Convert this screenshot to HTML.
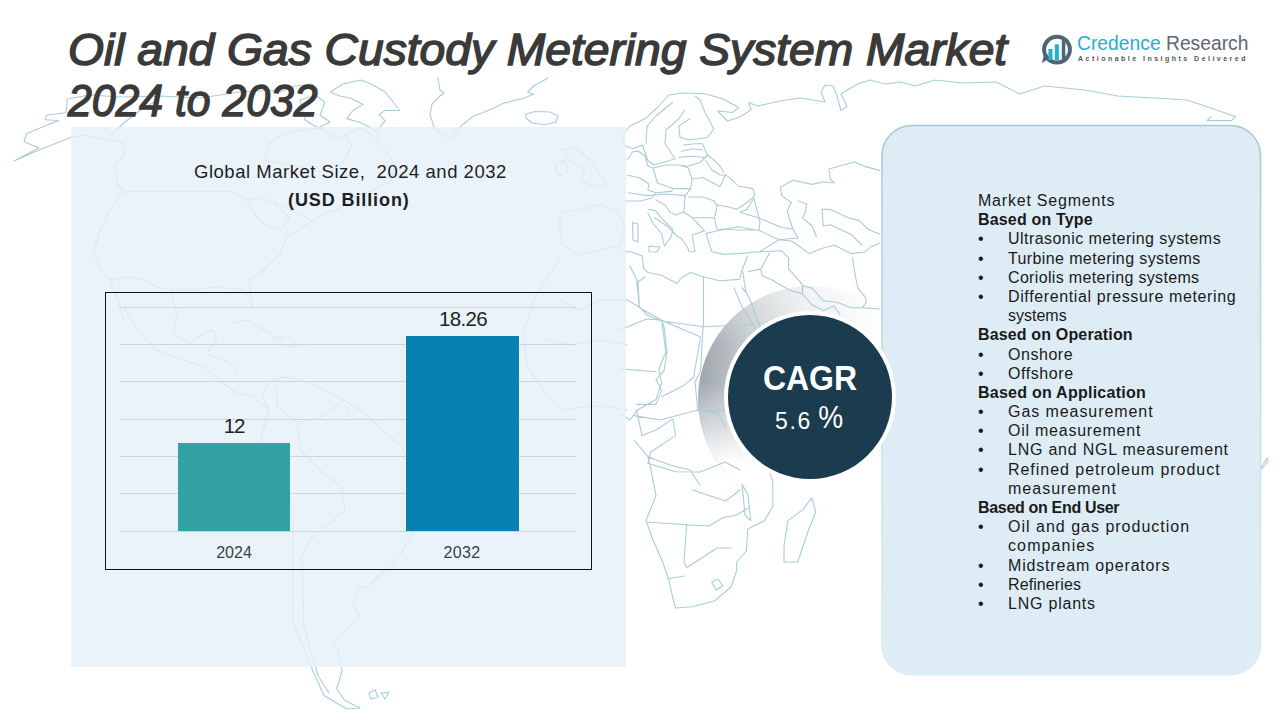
<!DOCTYPE html>
<html>
<head>
<meta charset="utf-8">
<style>
html,body{margin:0;padding:0;}
body{width:1280px;height:720px;position:relative;overflow:hidden;background:#ffffff;font-family:"Liberation Sans",sans-serif;}
.abs{position:absolute;}
#map{position:absolute;left:0;top:0;}
#title div{position:absolute;font-weight:normal;font-style:italic;font-size:45px;color:#3a3a3a;-webkit-text-stroke:1.5px #3a3a3a;line-height:52px;white-space:nowrap;transform-origin:0 0;}
#t1{left:68px;top:23.8px;transform:scaleX(1.026);}
#t2{left:68px;top:74.5px;transform:scaleX(0.95);}
#lpanel{position:absolute;left:71px;top:127px;width:555px;height:540px;background:rgba(229,240,248,0.8);}
.ctitle{position:absolute;white-space:nowrap;color:#1e1e1e;}
#chartbox{position:absolute;left:105px;top:292px;width:485px;height:276px;border:1.3px solid #111;}
.grid{position:absolute;left:120px;width:456px;height:1px;background:#cfd6da;}
.bar{position:absolute;}
.lbl{position:absolute;white-space:nowrap;text-align:center;}
.seg{position:absolute;left:978px;top:191px;font-size:16px;line-height:19.2px;color:#1a1a1a;white-space:nowrap;}
.seg div{height:19.2px;}
.seg b{font-weight:bold;}
.bl,.in{position:relative;padding-left:30px;}
.bl:before{content:"\2022";position:absolute;left:0px;}
</style>
</head>
<body>


<svg class="abs" style="left:680px;top:270px" width="240" height="250" viewBox="680 270 240 250">
  <defs>
    <linearGradient id="hg" gradientUnits="userSpaceOnUse" x1="695" y1="0" x2="880" y2="0">
      <stop offset="0" stop-color="#9ba4aa"/>
      <stop offset="0.3" stop-color="#c8cdd0"/>
      <stop offset="0.6" stop-color="#ebeced"/>
      <stop offset="1" stop-color="#ffffff"/>
    </linearGradient>
    <linearGradient id="vg" gradientUnits="userSpaceOnUse" x1="0" y1="382" x2="0" y2="465">
      <stop offset="0" stop-color="#ffffff" stop-opacity="0"/>
      <stop offset="1" stop-color="#ffffff" stop-opacity="1"/>
    </linearGradient>
    <linearGradient id="tg" gradientUnits="userSpaceOnUse" x1="0" y1="285" x2="0" y2="345">
      <stop offset="0" stop-color="#ffffff" stop-opacity="0.4"/>
      <stop offset="1" stop-color="#ffffff" stop-opacity="0"/>
    </linearGradient>
  </defs>
  <circle cx="811" cy="399" r="113" fill="url(#hg)"/>
  <circle cx="811" cy="399" r="113" fill="url(#vg)"/>
  <circle cx="811" cy="399" r="113" fill="url(#tg)"/>
</svg>
<svg id="map" width="1280" height="720" viewBox="0 0 1280 720"><path d="M67.0 99.0 L67.0 105.6 L65.6 112.7 L47.0 115.0 L45.0 119.7 L59.0 120.5 L40.0 128.0 L26.5 133.8 L24.0 141.5 L31.0 144.7 L39.0 147.8 L14.0 161.0 L39.0 150.0 L72.0 137.0 L86.0 135.0 L109.0 140.0 L119.0 141.5 L125.0 144.7 L123.4 157.0 L115.6 163.4 L117.0 184.0 L125.0 191.5 M109.0 137.0 L125.0 122.0 L140.6 110.0 L156.0 101.0 M67.0 99.0 L90.0 95.0 L120.0 97.0 L160.0 96.0 L200.0 98.0 L240.0 92.0 L280.0 90.0 M330.5 92.0 L342.7 84.0 L361.0 80.0 L371.0 84.0 L385.0 92.0 L391.5 100.0 L399.6 110.5 L385.0 110.5 L379.0 114.6 L385.0 120.7 L377.0 131.0 L361.0 122.7 L346.7 118.6 L352.8 110.5 L363.0 104.4 L350.8 98.3 L340.6 96.3 L330.5 92.0 M300.0 100.0 L315.0 95.0 L325.0 102.0 L320.0 115.0 L330.0 122.0 L318.0 128.0 L305.0 120.0 L300.0 100.0 M280.0 92.0 L295.0 86.0 L312.0 84.0 L318.0 90.0 M265.0 160.0 L268.0 145.0 L280.0 135.0 L300.0 130.0 L320.0 128.0 L335.0 138.0 L345.0 135.0 L352.0 145.0 L345.0 160.0 L330.0 172.0 L310.0 170.0 L290.0 165.0 L265.0 160.0 M345.0 135.0 L360.0 128.0 L372.0 135.0 L385.0 150.0 L395.0 165.0 L390.0 182.0 L372.0 190.0 L355.0 196.0 L350.0 192.5 M438.0 78.0 L440.0 90.0 L444.0 93.0 L440.0 96.0 L432.0 104.0 L430.0 114.6 L434.0 126.8 L442.0 135.0 L450.4 138.0 L462.6 124.7 L472.8 116.6 L493.0 108.5 L503.0 103.4 L523.6 98.3 L533.7 94.3 L527.6 92.2 L533.7 86.0 L548.0 78.0 M526.0 114.0 L535.0 111.5 L550.0 112.0 L558.0 116.0 L556.0 122.0 L545.0 124.7 L532.0 123.0 L526.0 118.0 L526.0 114.0 M116.7 186.7 L123.3 191.7 L233.3 191.7 L246.7 200.0 L262.0 198.0 L280.0 205.0 L300.0 215.0 L315.0 222.0 M123.3 191.7 L110.0 210.0 L100.0 230.0 L93.3 253.3 L103.3 273.3 L110.0 280.0 L118.0 300.0 L123.3 320.0 M110.0 280.0 L130.0 276.7 L143.3 280.0 L156.7 286.7 L170.0 290.0 L190.0 290.0 L216.7 286.7 L243.3 290.0 L253.3 306.7 L250.0 290.0 L250.0 280.0 L263.3 270.0 L280.0 253.3 L286.7 236.7 L303.3 226.7 L323.3 213.3 L336.7 210.0 L356.7 196.7 L377.0 188.0 M246.7 200.0 L255.0 215.0 L265.0 225.0 L280.0 230.0 L290.0 218.0 L275.0 205.0 M170.0 290.0 L176.7 313.3 L173.3 333.3 L190.0 343.3 L203.3 333.3 L213.3 330.0 L216.7 340.0 L206.7 353.3 L230.0 363.3 L238.0 372.0 M123.3 306.7 L140.0 333.3 L156.7 350.0 L183.3 360.0 L203.3 366.7 L223.3 383.3 L236.7 393.3 L253.3 396.7 L269.0 410.0 M230.0 323.3 L246.7 320.0 L270.0 333.3 L276.7 340.0 M278.0 337.0 L290.0 338.0 L297.0 346.0 L284.0 346.0 L278.0 337.0 M300.0 345.0 L306.0 347.0 M269.0 381.7 L283.3 376.7 L300.0 380.0 L316.7 386.7 L325.6 389.8 L343.3 400.0 L366.0 414.0 L382.0 430.0 L402.0 446.0 L410.0 470.0 L413.0 500.0 L413.0 533.0 L400.0 555.0 L387.0 570.0 L384.4 571.0 L370.0 585.0 L358.0 589.0 L353.0 604.0 L360.0 617.8 L344.0 631.0 L333.0 642.0 L337.8 649.0 L342.0 671.0 L336.7 689.0 L344.4 700.0 L360.0 708.0 M269.0 381.7 L262.0 395.0 L269.0 410.0 L261.0 438.0 L275.0 465.0 L289.4 494.5 L293.0 520.0 L293.0 553.0 L293.0 560.0 L293.0 622.0 L313.0 671.0 L324.0 695.5 L346.7 709.0 L360.0 708.0 M277.0 386.0 L277.0 406.0 L297.4 422.0 L320.0 418.0 L341.7 401.8 M297.4 422.0 L300.0 450.0 L320.0 470.0 L341.7 486.5 L345.0 510.0 L325.6 526.7 L310.0 540.0 L300.0 560.0 M345.0 405.0 L350.0 420.0 L365.0 418.0 M302.0 560.0 L304.0 627.0 L318.0 675.5 L329.0 693.0 M369.0 693.0 L375.0 690.0 L378.0 697.0 L371.0 699.0 L369.0 693.0 M381.0 693.0 L389.0 692.0 L385.0 699.0 L381.0 693.0 M560.0 260.0 L548.0 275.0 L540.0 290.0 L535.0 297.0 L523.0 333.0 L527.0 365.6 L543.0 389.8 L563.0 410.0 L585.0 407.0 L600.0 406.0 L627.0 410.0 M560.0 300.0 L580.0 310.0 L600.0 300.0 L627.0 300.0 M545.0 340.0 L570.0 345.0 L600.0 340.0 L627.0 345.0 M622.5 135.0 L630.0 126.0 L645.0 118.8 L657.5 107.5 L668.8 95.0 L682.5 93.0 L705.0 93.8 L722.5 98.8 L738.8 107.5 L732.5 112.5 L717.5 111.0 L727.5 121.0 L738.8 117.5 L751.0 110.0 L748.8 102.5 L757.5 106.0 L780.0 101.0 L800.6 98.0 L825.0 102.0 L821.0 92.0 L825.0 85.0 L833.0 86.0 L837.0 96.0 L841.0 110.5 L847.0 106.4 L841.0 94.0 L857.6 84.0 L870.0 80.0 M622.5 135.0 L623.8 145.0 L632.5 148.8 L642.5 145.0 L647.5 160.0 L653.8 165.0 L665.0 162.0 L675.0 158.8 M672.5 102.5 L656.0 116.0 L647.0 126.0 L646.0 143.8 M685.0 110.0 L678.8 118.8 L666.0 130.0 L665.0 143.8 L675.0 158.8 M690.0 118.8 L678.8 126.0 L680.0 137.5 L690.0 140.0 L707.5 137.5 L713.8 128.8 L705.0 112.5 L700.0 100.0 L695.0 96.0 M683.8 145.0 L695.0 143.8 L702.5 143.8 L707.5 155.0 L713.8 160.0 L720.0 166.2 L723.8 172.5 M935.0 80.0 L963.0 83.0 L996.0 82.0 L1020.0 94.0 L1044.6 86.0 L1085.0 90.0 L1117.7 96.0 L1154.0 98.0 L1187.0 100.0 L1235.6 116.6 L1231.5 120.6 L1207.0 120.6 L1211.0 116.6 M562.0 150.0 L575.0 147.0 L590.0 160.0 L600.0 175.0 L607.0 185.0 L592.0 186.0 L580.0 180.0 L585.0 170.0 L572.0 162.0 L562.0 150.0 M555.0 165.0 L565.0 160.0 L568.0 172.0 L558.0 176.0 L555.0 165.0 M560.0 212.0 L580.0 210.0 L600.0 205.0 L615.0 210.0 L625.0 225.0 L620.0 245.0 L600.0 250.0 L578.0 255.0 L562.0 245.0 L560.0 230.0 L560.0 212.0 M627.0 160.0 L632.5 152.0 L638.0 151.0 L645.0 156.0 L648.0 166.0 L653.0 168.0 M653.0 168.0 L665.8 165.0 L679.7 165.0 L688.0 167.8 L692.0 179.0 L690.8 188.6 L672.8 188.6 L657.5 183.0 L653.0 168.0 M649.0 184.0 L647.8 190.0 L656.0 192.8 L671.4 191.4 L672.8 188.6 M628.3 192.8 L647.8 195.6 L665.8 194.0 L685.0 195.6 L690.8 188.6 M624.0 201.0 L640.8 201.0 L652.0 198.0 L656.0 192.8 M627.0 175.0 L640.0 178.0 L649.0 184.0 M681.2 151.2 L692.5 148.8 L702.5 150.0 M678.8 157.5 L690.0 156.2 L706.2 157.5 M678.8 165.0 L687.5 166.2 L700.0 162.5 L707.5 155.0 M692.0 179.0 L703.0 177.5 L720.0 186.7 L725.6 174.7 L734.0 181.7 L738.0 186.0 L753.0 188.6 L754.7 195.6 L749.0 201.0 L740.8 206.7 L736.7 209.4 L728.0 206.7 L717.0 205.0 M688.0 197.0 L703.0 197.0 L714.4 201.0 L717.0 206.7 L714.4 217.8 L710.0 217.8 L692.0 217.8 L684.0 212.0 L685.0 195.6 M706.0 160.8 L712.0 170.0 L720.0 175.0 L725.6 174.7 M684.0 212.0 L676.0 215.0 L670.0 212.0 L665.0 205.0 L656.0 200.0 M692.0 217.8 L698.0 224.0 L704.7 230.8 M714.4 217.8 L717.0 229.0 L738.0 230.0 L759.0 230.0 L760.0 222.0 L753.9 198.3 L747.0 209.4 L740.0 212.2 L758.0 217.8 L781.7 227.5 L792.8 229.0 M647.8 212.8 L653.3 224.0 L661.7 233.6 L664.4 246.0 L671.4 236.4 L672.8 229.4 L661.7 218.3 L656.0 211.0 L649.0 209.4 M649.0 246.0 L660.0 247.0 L657.0 252.0 L649.0 251.7 L649.0 246.0 M632.5 222.5 L638.0 224.0 L638.0 242.0 L633.0 240.0 L632.5 222.5 M654.7 217.8 L667.0 226.0 L678.0 237.0 L681.0 237.8 L686.7 246.0 L689.4 251.7 L695.0 251.7 L693.6 243.3 L692.2 235.0 L704.7 230.8 M706.0 233.6 L711.7 251.7 L724.0 254.4 L745.0 253.0 L760.0 251.7 L778.9 239.7 L760.0 230.8 L738.0 226.7 L717.0 230.8 L706.0 233.6 M780.3 187.2 L792.8 180.3 L812.2 184.4 L823.3 181.7 L834.4 183.0 L830.3 179.0 L828.9 169.0 L854.0 162.0 L865.0 166.4 L880.0 170.6 M780.3 187.2 L781.7 195.6 L791.4 202.5 L787.2 210.8 L790.0 220.6 L792.8 229.0 L798.0 238.0 L778.9 239.7 M798.3 201.0 L806.7 203.9 L805.3 212.2 L802.5 217.8 L812.2 226.0 L816.4 237.0 M822.0 209.4 L830.3 209.4 L848.3 217.8 L859.4 220.6 L867.8 229.0 L880.0 234.4 M822.0 209.4 L823.3 226.0 L830.3 224.7 L851.0 234.4 L862.0 245.0 M778.9 239.7 L791.4 241.0 L799.7 246.7 L809.4 253.6 L823.3 248.0 L834.4 245.3 L851.0 253.6 L865.0 252.0 L870.6 246.7 L880.0 243.0 M852.5 257.8 L855.3 275.8 L858.0 288.3 L865.0 296.7 L866.4 302.2 L862.2 307.8 L880.0 309.0 M802.5 285.6 L812.2 288.3 L823.3 300.8 L837.2 302.2 L851.0 307.8 L862.2 307.8 M781.7 250.8 L788.6 257.8 L788.6 268.9 L799.7 281.4 L802.5 285.6 L802.5 293.9 L812.2 305.0 L823.3 310.6 L834.0 306.0 L840.0 314.7 M740.0 253.6 L752.5 252.2 L781.7 250.8 M748.3 271.7 L760.8 268.9 L769.2 253.6 M760.8 268.9 L762.2 275.8 L772.0 280.0 L788.6 289.7 L802.5 293.9 M742.8 271.7 L745.6 291.0 L750.0 300.0 L761.7 332.0 M620.0 251.7 L631.0 251.7 L642.0 255.8 L643.6 268.3 L647.8 272.5 L661.7 275.3 L677.0 283.6 L681.0 278.0 L690.8 272.5 L703.3 276.7 L720.0 280.8 L739.4 279.4 L742.2 269.7 L747.8 255.8 M629.7 265.6 L638.0 282.2 L639.4 307.0 M645.0 276.7 L638.0 282.2 M733.9 287.8 L742.2 307.2 L750.6 320.0 L761.7 340.0 L775.0 360.0 L790.0 385.0 L800.0 400.0 M742.2 287.8 L747.8 294.7 M703.5 276.7 L703.5 326.7 L742.0 325.0 L753.0 324.0 M661.7 321.0 L703.0 326.7 M639.4 307.0 L647.8 315.6 L661.7 321.0 L664.0 326.7 L667.0 351.7 L664.0 371.0 L656.0 379.4 L661.7 390.6 L656.0 404.4 L636.7 404.4 M703.0 326.7 L700.6 371.0 L695.0 382.0 L697.8 410.0 L717.0 412.8 L725.6 426.7 M627.0 300.0 L639.4 307.0 M634.0 415.6 L660.0 420.0 L697.8 410.0 M634.0 440.0 L647.8 456.7 L650.6 467.8 L656.0 495.6 L646.0 520.6 L653.0 540.0 L661.7 559.4 L668.6 579.0 L672.8 598.0 L675.6 608.0 L692.0 606.7 L714.4 601.0 L731.0 587.0 L736.7 570.6 L736.7 562.0 L746.4 551.0 L747.8 529.0 L764.4 520.6 L772.8 506.7 L772.8 481.7 L770.0 473.0 M646.0 522.0 L686.7 524.7 L709.0 526.0 L722.8 517.8 L736.7 515.0 L748.0 508.0 M686.7 524.7 L684.0 562.0 L686.7 567.8 L717.0 548.0 L731.0 548.0 M667.0 579.0 L684.0 576.0 M692.8 490.0 L700.6 492.8 L725.6 501.0 L740.0 490.0 M647.8 456.7 L670.0 465.0 L690.0 470.0 L700.0 485.0 M742.0 484.0 L748.0 495.0 L750.6 520.6 L745.0 515.0 L742.0 484.0 M811.7 498.0 L815.8 512.0 L808.9 529.0 L797.8 562.0 L784.0 562.0 L784.0 545.6 L788.0 520.6 L803.0 509.4 L811.7 498.0 Z M711.7 582.0 L718.0 579.0 L722.8 586.0 L716.0 590.0 L711.7 582.0 M636.7 280.0 L639.4 307.8 L661.7 320.3 L700.6 337.0 M620.0 330.0 L646.4 319.0 L661.7 320.3 M661.7 320.3 L665.8 352.0 L658.9 369.0 L661.7 382.8 L656.0 399.4 L636.7 410.6 M700.6 337.0 L693.6 377.0 L683.9 385.6 L661.7 396.7 M620.0 368.9 L656.0 371.7 M695.0 410.6 L725.6 410.6 M636.7 410.6 L642.0 435.6 L656.0 430.0 L672.8 418.9 L675.6 435.6 L650.6 452.0 L647.8 463.3 L675.6 471.7 L700.0 472.0 L725.0 462.0 L740.0 470.0 M620.0 413.0 L630.0 420.0 L636.7 410.6 M1261.0 468.0 L1267.0 458.0 L1268.0 461.0 L1262.0 469.0 M870.0 80.0 L885.0 84.0 L900.0 82.0 L915.0 86.0 L935.0 80.0" fill="none" stroke="#a9cdd8" stroke-width="1.1" stroke-linejoin="round" stroke-linecap="round"/></svg>
<div id="lpanel"></div>

<svg class="abs" style="left:870px;top:115px" width="410" height="580" viewBox="870 115 410 580">
  <defs>
    <linearGradient id="pb" gradientUnits="userSpaceOnUse" x1="0" y1="125" x2="0" y2="676">
      <stop offset="0" stop-color="#a6cad4"/>
      <stop offset="0.45" stop-color="#c3dce4"/>
      <stop offset="1" stop-color="#deedf5"/>
    </linearGradient>
  </defs>
  <rect x="882" y="125.5" width="378.5" height="549.3" rx="30" ry="30" fill="#deedf5" stroke="url(#pb)" stroke-width="1.6"/>
</svg>

<div id="title" style="position:absolute;left:0;top:0"><div id="t1">Oil and Gas Custody Metering System Market</div><div id="t2">2024 to 2032</div></div>

<!-- logo -->
<svg class="abs" style="left:1036px;top:30px" width="50" height="40" viewBox="0 0 50 40">
  <circle cx="21" cy="19.6" r="12.9" fill="none" stroke="#4d6577" stroke-width="4"/>
  <path d="M8.5 22 L6 33 L14 28 Z" fill="#4d6577"/>
  <rect x="12.4" y="19" width="4.1" height="11" fill="#22b2cf"/>
  <rect x="18.8" y="14.3" width="4.1" height="15.7" fill="#22b2cf"/>
  <rect x="25.8" y="9" width="3.5" height="21" fill="#4d6577"/>
</svg>
<div class="abs" style="left:1077px;top:32.8px;font-size:19.3px;color:#2aaec8;white-space:nowrap;">Credence <span style="color:#5c6874">Research</span></div>
<div class="abs" style="left:1078px;top:55px;font-size:7px;font-weight:bold;color:#555;letter-spacing:2.48px;white-space:nowrap;">Actionable Insights Delivered</div>

<div class="ctitle" style="left:194px;top:161px;font-size:18.5px;letter-spacing:0.52px;">Global Market Size,&nbsp; 2024 and 2032</div>
<div class="ctitle" style="left:288px;top:189.5px;font-size:18px;font-weight:bold;letter-spacing:0.9px;">(USD Billion)</div>

<div id="chartbox"></div>
<div class="grid" style="top:307px"></div>
<div class="grid" style="top:344px"></div>
<div class="grid" style="top:381px"></div>
<div class="grid" style="top:419px"></div>
<div class="grid" style="top:456px"></div>
<div class="grid" style="top:493px"></div>
<div class="grid" style="top:531px"></div>
<div class="bar" style="left:178px;top:443px;width:112px;height:88px;background:#33a2a4;"></div>
<div class="bar" style="left:406px;top:336px;width:113px;height:195px;background:#0780b2;"></div>
<div class="lbl" style="left:194px;width:80px;top:413.5px;font-size:20.5px;letter-spacing:-1.2px;color:#222;">12</div>
<div class="lbl" style="left:423px;width:80px;top:306.5px;font-size:20.5px;letter-spacing:-0.7px;color:#222;">18.26</div>
<div class="lbl" style="left:194px;width:80px;top:544px;font-size:16px;color:#33434a;">2024</div>
<div class="lbl" style="left:422px;width:80px;top:544px;font-size:16px;color:#33434a;letter-spacing:0.4px;">2032</div>

<!-- CAGR -->
<svg class="abs" style="left:680px;top:270px" width="240" height="250" viewBox="680 270 240 250">
  <circle cx="810" cy="397" r="86" fill="#ffffff"/>
  <circle cx="810" cy="397" r="82" fill="#1a3c4e"/>
</svg>
<div class="abs" style="left:730px;width:160px;text-align:center;top:358px;font-size:32px;font-weight:bold;color:#fff;transform:scaleY(1.1);transform-origin:50% 0;">CAGR</div>
<div class="abs" style="left:728.5px;width:160px;text-align:center;top:408px;font-size:23px;color:#fff;letter-spacing:1.6px;text-indent:1.6px;">5.6 <span style="display:inline-block;transform:translate(-1px,1.5px) scale(1.22,1.4);transform-origin:50% 100%;font-weight:normal;">%</span></div>

<div class="seg">
<div style="letter-spacing:0.79px">Market Segments</div>
<div style="letter-spacing:0.17px"><b>Based on Type</b></div>
<div class="bl"><span style="letter-spacing:0.45px">Ultrasonic metering systems</span></div>
<div class="bl"><span style="letter-spacing:0.38px">Turbine metering systems</span></div>
<div class="bl"><span style="letter-spacing:0.33px">Coriolis metering systems</span></div>
<div class="bl"><span style="letter-spacing:0.62px">Differential pressure metering</span></div>
<div class="in"><span>systems</span></div>
<div style="letter-spacing:0.15px"><b>Based on Operation</b></div>
<div class="bl"><span style="letter-spacing:0.54px">Onshore</span></div>
<div class="bl"><span style="letter-spacing:0.57px">Offshore</span></div>
<div style="letter-spacing:0.25px"><b>Based on Application</b></div>
<div class="bl"><span style="letter-spacing:0.93px">Gas measurement</span></div>
<div class="bl"><span style="letter-spacing:0.75px">Oil measurement</span></div>
<div class="bl"><span style="letter-spacing:0.77px">LNG and NGL measurement</span></div>
<div class="bl"><span style="letter-spacing:0.96px">Refined petroleum product</span></div>
<div class="in"><span style="letter-spacing:1.0px">measurement</span></div>
<div style="letter-spacing:-0.32px"><b>Based on End User</b></div>
<div class="bl"><span style="letter-spacing:1.0px">Oil and gas production</span></div>
<div class="in"><span style="letter-spacing:1.12px">companies</span></div>
<div class="bl"><span style="letter-spacing:0.82px">Midstream operators</span></div>
<div class="bl"><span style="letter-spacing:0.1px">Refineries</span></div>
<div class="bl"><span style="letter-spacing:0.78px">LNG plants</span></div>
</div>

</body>
</html>
